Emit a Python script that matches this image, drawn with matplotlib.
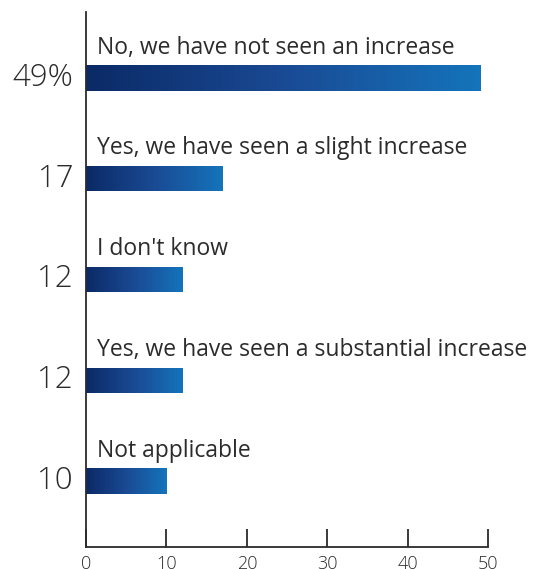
import matplotlib.pyplot as plt
import numpy as np

# survey answers, top to bottom
answers = [
    "No, we have not seen an increase",
    "Yes, we have seen a slight increase",
    "I don't know",
    "Yes, we have seen a substantial increase",
    "Not applicable",
]
shares = [49, 17, 12, 12, 10]
share_labels = ["49%", "17", "12", "12", "10"]
xticks = [0, 10, 20, 30, 40, 50]

plt.rcParams['font.family'] = ['Open Sans', 'DejaVu Sans']
ink = "#2b2b2b"

fig = plt.figure(figsize=(5.34, 5.69), dpi=100)
ax = fig.add_axes([0.161, 0.0387, 0.753, 0.9403])

pos = np.arange(len(shares))
bars = ax.barh(pos, shares, height=0.25, color="none", edgecolor="none")

# left-to-right blue gradient inside each bar
grad = np.linspace(0, 1, 256).reshape(1, -1)
cmap = plt.matplotlib.colors.LinearSegmentedColormap.from_list(
    "blues", ["#0b2a66", "#1a4a94", "#1474bb"])
for b in bars:
    x0, y0 = b.get_x(), b.get_y()
    w, h = b.get_width(), b.get_height()
    im = ax.imshow(grad, cmap=cmap, aspect="auto",
                   extent=[x0, x0 + w, y0 + h, y0], zorder=2)
    im.set_clip_path(b)

for p, txt, lab in zip(pos, answers, share_labels):
    ax.text(1.4, p - 0.30, txt, fontsize=16.5, color=ink, va="center",
            ha="left")
    ax.text(-1.6, p, lab, fontsize=22.5, color=ink, va="center", ha="right",
            fontweight="light")

ax.set_xlim(0, 50)
ax.set_ylim(len(shares) - 1 + 0.655, -0.655)
ax.set_xticks(xticks)
ax.set_yticks([])
ax.tick_params(axis="x", direction="in", length=13, width=1.3, color=ink,
               labelsize=13, labelcolor=ink, pad=6)
for lbl in ax.get_xticklabels():
    lbl.set_fontweight("light")
for s in ["top", "right"]:
    ax.spines[s].set_visible(False)
for s in ["left", "bottom"]:
    ax.spines[s].set_color(ink)
    ax.spines[s].set_linewidth(1.3)

fig.savefig("out.png", dpi=100)
